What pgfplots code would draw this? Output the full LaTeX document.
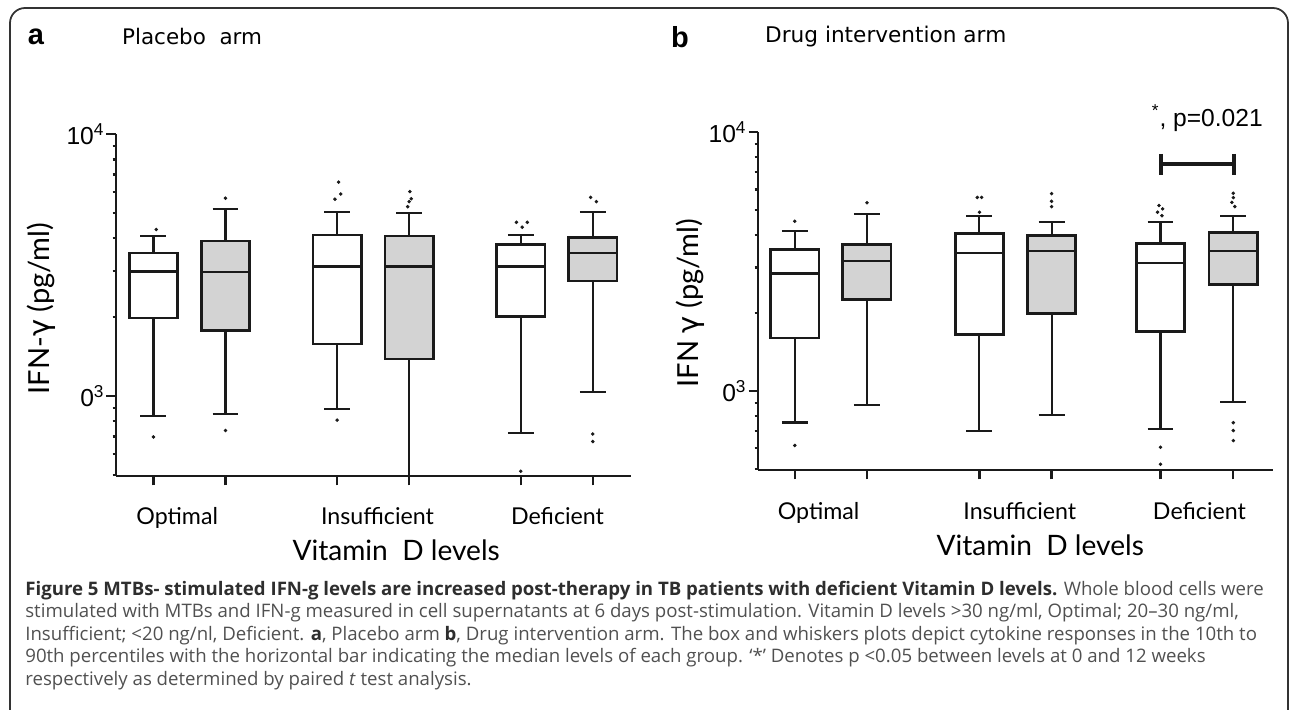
\documentclass[border=0pt]{standalone}
\usepackage{fontspec}
\setmainfont{Open Sans}
\usepackage{pgfplots}
\pgfplotsset{compat=1.18}
\newfontfamily\labfont{Lato}
\newfontfamily\titlefont{DejaVu Sans}
\newfontfamily\arialfont{Liberation Sans}
\definecolor{boxgrey}{HTML}{D3D3D3}
\definecolor{ink}{HTML}{1A1A1A}
\definecolor{captxt}{HTML}{505050}
\definecolor{capbold}{HTML}{2E2E2E}
% #1 position, #2 lower whisker, #3 lower quartile, #4 median, #5 upper quartile, #6 upper whisker, #7 fill
\newcommand{\bx}[7]{%
  \pgfmathsetmacro{\bl}{#1-0.335}\pgfmathsetmacro{\br}{#1+0.335}%
  \pgfmathsetmacro{\wl}{#1-0.18}\pgfmathsetmacro{\wr}{#1+0.18}%
  \addplot[line width=0.42mm, ink] coordinates {(#1,#2) (#1,#3)};
  \addplot[line width=0.42mm, ink] coordinates {(#1,#5) (#1,#6)};
  \addplot[line width=0.42mm, ink] coordinates {(\wl,#2) (\wr,#2)};
  \addplot[line width=0.42mm, ink] coordinates {(\wl,#6) (\wr,#6)};
  \addplot[line width=0.52mm, draw=ink, fill=#7] coordinates {(\bl,#3) (\br,#3) (\br,#5) (\bl,#5)} -- cycle;
  \addplot[line width=0.52mm, ink] coordinates {(\bl,#4) (\br,#4)};
}
\begin{document}
\begin{tikzpicture}
\useasboundingbox (0,0) rectangle (258mm,-142mm);
\draw[rounded corners=3mm, line width=0.35mm, color=black!80] (2mm,-1.6mm) rectangle (257.6mm,-147mm);
% panel titles
\node[font=\arialfont\bfseries\fontsize{16.5}{16}\selectfont, anchor=center] at (7.2mm,-7.4mm) {a};
\node[font=\titlefont\fontsize{12.2}{12}\selectfont, anchor=west] at (23.2mm,-7.4mm) {Placebo\ \ arm};
\node[font=\arialfont\bfseries\fontsize{16.5}{16}\selectfont, anchor=center] at (136mm,-7.4mm) {b};
\node[font=\titlefont\fontsize{12.3}{12}\selectfont, anchor=west] at (151.8mm,-7.4mm) {Drug intervention arm};

% ---------------- panel a ----------------
\begin{axis}[
  scale only axis, width=103mm, height=68.4mm,
  at={(23.2mm,-95.2mm)}, anchor=south west,
  ymode=log, ymin=495, ymax=10000,
  xmin=-0.52, xmax=6.63,
  axis x line*=bottom, axis y line*=left,
  axis line style={line width=0.55mm, ink},
  clip=false,
  major tick length=1.9mm, minor tick length=0.7mm,
  tick align=outside,
  tick style={line width=0.45mm, ink},
  xtick={0,1,2.55,3.55,5.1,6.1},
  xticklabels={},
  ytick={1000,10000},
  yticklabels={{0\textsuperscript{3}},{10\textsuperscript{4}}},
  minor ytick={500,600,700,800,900,2000,3000,4000,5000,6000,7000,8000,9000},
  yticklabel style={font=\arialfont\fontsize{14}{14}\selectfont, inner sep=1pt},
  extra x ticks={0.33,3.11,5.61},
  extra x tick labels={Optimal,Insufficient,Deficient},
  extra x tick style={major tick length=0pt, xticklabel style={anchor=base, yshift=-9.8mm, font=\labfont\fontsize{13.2}{14}\selectfont}},
  xlabel={Vitamin\ \ D levels},
  xlabel style={at={(axis description cs:0.544,0)}, anchor=base, yshift=-16.9mm, font=\labfont\fontsize{16}{16}\selectfont},
  ylabel={IFN-{\titlefont γ} (pg/ml)},
  ylabel style={at={(axis description cs:-0.145,0.49)}, anchor=center, font=\labfont\fontsize{16.5}{16}\selectfont},
]
\bx{0}{840}{1985}{2980}{3510}{4080}{white}
\bx{1}{853}{1775}{2970}{3910}{5180}{boxgrey}
\bx{2.55}{893}{1580}{3120}{4120}{5040}{white}
\bx{3.55}{495}{1384}{3120}{4080}{5010}{boxgrey}
\bx{5.1}{724}{2010}{3120}{3790}{4120}{white}
\bx{6.1}{1032}{2750}{3510}{4020}{5020}{boxgrey}
\addplot[only marks, mark=*, mark size=0.28mm, ink] coordinates {
 (0.04,4320) (0,698)
 (1,5690) (1,738)
 (2.57,6550) (2.6,5900) (2.52,5640) (2.55,809)
 (3.56,6030) (3.58,5660) (3.55,5520) (3.53,5280)
 (5.04,4600) (5.19,4600) (5.12,4410) (5.1,516)
 (6.07,5730) (6.15,5520) (6.1,716) (6.1,670)
};
\end{axis}

% ---------------- panel b ----------------
\begin{axis}[
  scale only axis, width=103mm, height=67.6mm,
  at={(151.6mm,-94.0mm)}, anchor=south west,
  ymode=log, ymin=495, ymax=10000,
  xmin=-0.51, xmax=6.63,
  axis x line*=bottom, axis y line*=left,
  axis line style={line width=0.55mm, ink},
  clip=false,
  major tick length=1.9mm, minor tick length=0.7mm,
  tick align=outside,
  tick style={line width=0.45mm, ink},
  xtick={0,1,2.56,3.56,5.07,6.08},
  xticklabels={},
  ytick={1000,10000},
  yticklabels={{0\textsuperscript{3}},{10\textsuperscript{4}}},
  minor ytick={500,600,700,800,900,2000,3000,4000,5000,6000,7000,8000,9000},
  yticklabel style={font=\arialfont\fontsize{14}{14}\selectfont, inner sep=1pt},
  extra x ticks={0.33,3.12,5.61},
  extra x tick labels={Optimal,Insufficient,Deficient},
  extra x tick style={major tick length=0pt, xticklabel style={anchor=base, yshift=-10.0mm, font=\labfont\fontsize{13.2}{14}\selectfont}},
  xlabel={Vitamin\ \ D levels},
  xlabel style={at={(axis description cs:0.548,0)}, anchor=base, yshift=-17.1mm, font=\labfont\fontsize{16}{16}\selectfont},
  ylabel={IFN {\titlefont γ} (pg/ml)},
  ylabel style={at={(axis description cs:-0.132,0.494)}, anchor=center, font=\labfont\fontsize{16.5}{16}\selectfont},
]
\bx{0}{755}{1603}{2840}{3515}{4140}{white}
\bx{1}{885}{2260}{3170}{3670}{4840}{boxgrey}
\bx{2.56}{703}{1652}{3410}{4065}{4720}{white}
\bx{3.56}{809}{1990}{3470}{3990}{4480}{boxgrey}
\bx{5.07}{710}{1700}{3120}{3720}{4480}{white}
\bx{6.08}{906}{2570}{3470}{4100}{4720}{boxgrey}
\addplot[only marks, mark=*, mark size=0.28mm, ink] coordinates {
 (0,4520) (0,616)
 (1,5330)
 (2.53,5590) (2.59,5590) (2.56,4900)
 (3.56,5780) (3.56,5400) (3.56,5150)
 (5.05,5200) (5.1,5050) (5.03,4900) (5.09,4750) (5.07,606) (5.07,521)
 (6.08,5800) (6.08,5580) (6.06,5350) (6.1,5150) (6.08,754) (6.08,703) (6.08,643)
};
\node[font=\arialfont\fontsize{14}{14}\selectfont] at (axis cs:5.72,11320) {\textsuperscript{*}, p=0.021};
\draw[line width=0.8mm, ink] (axis cs:5.08,7540) -- (axis cs:6.09,7540);
\draw[line width=0.8mm, ink] (axis cs:5.08,8240) -- (axis cs:5.08,6840);
\draw[line width=0.8mm, ink] (axis cs:6.09,8240) -- (axis cs:6.09,6840);
\end{axis}

% caption
\begin{scope}[every node/.style={anchor=base west, inner sep=0pt, font=\fontsize{10.6}{12}\selectfont, text=captxt}]
\node at (5mm,-119.0mm) {\textcolor{capbold}{\bfseries Figure 5 MTBs- stimulated IFN-g levels are increased post-therapy in TB patients with deficient Vitamin D levels.} Whole blood cells were};
\node at (5mm,-123.5mm) {stimulated with MTBs and IFN-g measured in cell supernatants at 6 days post-stimulation. Vitamin D levels >30 ng/ml, Optimal; 20–30 ng/ml,};
\node at (5mm,-128.0mm) {Insufficient; <20 ng/nl, Deficient. \textcolor{capbold}{\bfseries a}, Placebo arm \textcolor{capbold}{\bfseries b}, Drug intervention arm. The box and whiskers plots depict cytokine responses in the 10th to};
\node at (5mm,-132.5mm) {90th percentiles with the horizontal bar indicating the median levels of each group. ‘*’ Denotes p <0.05 between levels at 0 and 12 weeks};
\node at (5mm,-137.0mm) {respectively as determined by paired \textit{t} test analysis.};
\end{scope}
\end{tikzpicture}
\end{document}
